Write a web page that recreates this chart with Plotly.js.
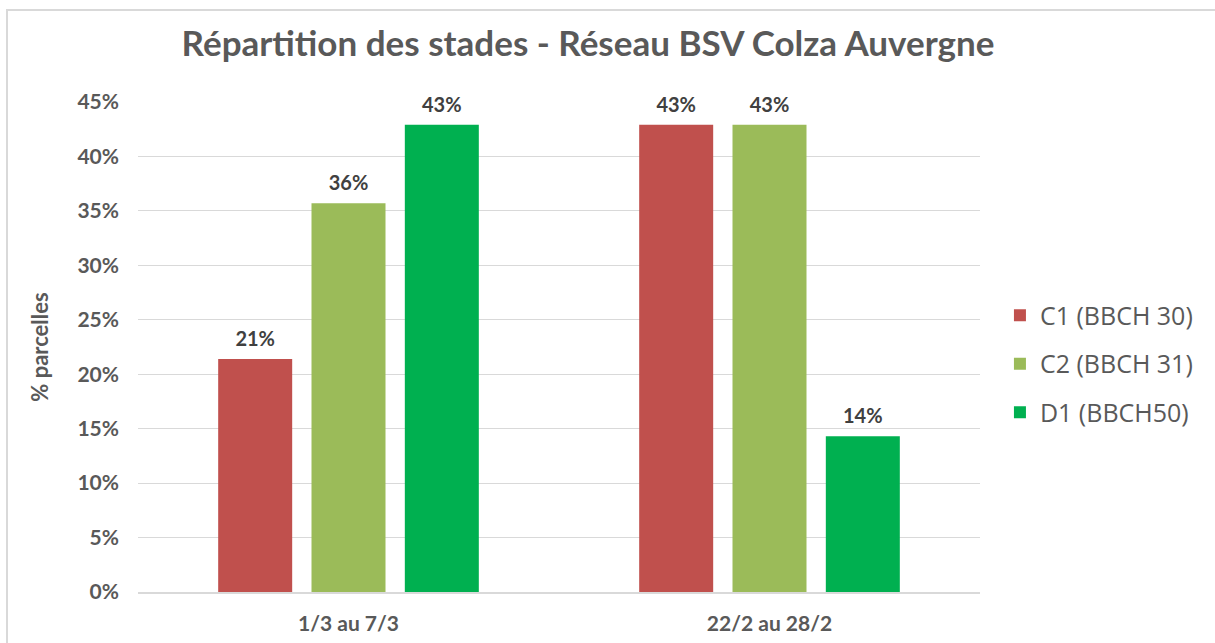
<!DOCTYPE html>
<html>
<head>
<meta charset="utf-8">
<script src="https://cdn.plot.ly/plotly-3.0.1.min.js"></script>
<style>
  html, body { margin: 0; padding: 0; background: #fff; }
  #wrap { position: relative; width: 1215px; height: 643px; }
  #chart { width: 1215px; height: 643px; }
  #frame { position: absolute; left: 6px; top: 9px; right: 0; bottom: 0;
           border-left: 2px solid #d9d9d9; border-top: 2px solid #d9d9d9;
           pointer-events: none; }
</style>
</head>
<body>
<div id="wrap">
  <div id="chart"></div>
  <div id="frame"></div>
</div>
<script>
const categories = ["1/3 au 7/3", "22/2 au 28/2"];
const seriesNames = ["C1 (BBCH 30)", "C2 (BBCH 31)", "D1 (BBCH50)"];
const c1Values = [0.214, 0.429];
const c2Values = [0.357, 0.429];
const d1Values = [0.429, 0.143];
const yTickVals = [0, 0.05, 0.10, 0.15, 0.20, 0.25, 0.30, 0.35, 0.40, 0.45];
const yTickText = ["0%", "5%", "10%", "15%", "20%", "25%", "30%", "35%", "40%", "45%"];

const colors = ["#C0504D", "#9BBB59", "#00B050"];
const allValues = [c1Values, c2Values, d1Values];

const traces = allValues.map((vals, i) => ({
  type: "bar",
  name: seriesNames[i],
  x: categories,
  y: vals,
  marker: { color: colors[i] },
  texttemplate: "<span style='font-size:20px'>%{y:.0%}</span><br> ",
  textposition: "outside",
  cliponaxis: false,
  textfont: { family: "Lato", size: 7, color: "#404040", weight: "bold" },
  legendgroup: "g" + i,
  hoverinfo: "skip"
}));

const layout = {
  width: 1215,
  height: 643,
  paper_bgcolor: "#ffffff",
  plot_bgcolor: "#ffffff",
  margin: { l: 138, r: 235, t: 102, b: 51 },
  title: {
    text: "<b>Répartition des stades - Réseau BSV Colza Auvergne</b>",
    font: { family: "Lato", size: 35, color: "#595959" },
    x: 0.484, xanchor: "center",
    y: 0.932, yanchor: "middle", yref: "container"
  },
  barmode: "group",
  bargap: 0.335,
  bargroupgap: 0.207,
  uniformtext: { mode: false },
  xaxis: {
    type: "category",
    showgrid: false,
    showline: true,
    linecolor: "#d9d9d9",
    linewidth: 2,
    ticks: "",
    ticklabelstandoff: 12,
    tickfont: { family: "Lato", size: 21, color: "#595959", weight: "bold" }
  },
  yaxis: {
    range: [0, 0.45],
    tickvals: yTickVals,
    ticktext: yTickText,
    showgrid: true,
    gridcolor: "#d9d9d9",
    gridwidth: 1,
    zeroline: false,
    showline: false,
    ticks: "",
    ticklabelstandoff: 18,
    tickfont: { family: "Lato", size: 21, color: "#595959", weight: "bold" },
    title: {
      text: "% parcelles",
      font: { family: "Lato", size: 22, color: "#595959", weight: "bold" },
      standoff: 22
    }
  },
  legend: {
    xref: "container", yref: "container",
    x: 0.823, xanchor: "left",
    y: 0.434, yanchor: "middle",
    font: { family: "Open Sans", size: 25, color: "#595959" },
    tracegroupgap: 13,
    itemwidth: 30,
    bgcolor: "rgba(0,0,0,0)"
  },
  showlegend: true
};

Plotly.newPlot("chart", traces, layout, { displayModeBar: false, staticPlot: true });
</script>
</body>
</html>
